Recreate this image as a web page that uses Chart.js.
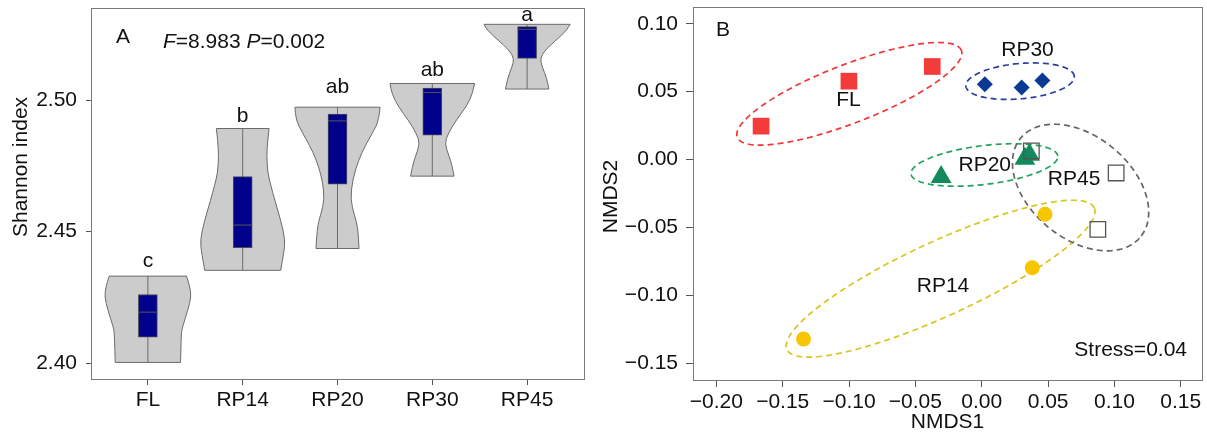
<!DOCTYPE html>
<html>
<head>
<meta charset="utf-8">
<script src="https://cdn.jsdelivr.net/npm/chart.js@4.4.1/dist/chart.umd.min.js"></script>
<style>
  html, body { margin: 0; padding: 0; background: #fff; }
  #wrap { position: relative; width: 1207px; height: 432px; }
  #chartA { position: absolute; left: 0; top: 0; }
  #chartB { position: absolute; left: 600px; top: 0; }
</style>
</head>
<body>
<div id="wrap">
  <canvas id="chartA" width="600" height="432"></canvas>
  <canvas id="chartB" width="607" height="432"></canvas>
</div>
<script>
// ---- panel A: Shannon index ----
const groups = ["FL", "RP14", "RP20", "RP30", "RP45"];
const shannonMin = [2.4003, 2.4353, 2.4436, 2.4711, 2.5042];
const shannonMax = [2.4331, 2.4892, 2.4973, 2.5063, 2.5288];
const boxLow = [2.4099, 2.4439, 2.4680, 2.4867, 2.5158];
const boxMedian = [2.4194, 2.4525, 2.4921, 2.5029, 2.5269];
const boxHigh = [2.4261, 2.4709, 2.4947, 2.5046, 2.5279];
const sigLetters = ["c", "b", "ab", "ab", "a"];
const sigLetterY = [2.4367, 2.4918, 2.5028, 2.5091, 2.5301];
const shannonTicks = [2.40, 2.45, 2.50];

// violin outlines, top to bottom: [Shannon value, half width in group units]
const violinFL = [[2.4331, 0.408], [2.4291, 0.443], [2.4253, 0.457], [2.4202, 0.422], [2.4139, 0.366], [2.4113, 0.352], [2.4003, 0.345]];
const violinRP14 = [[2.4892, 0.278], [2.4848, 0.264], [2.4791, 0.253], [2.4723, 0.264], [2.4677, 0.296], [2.4620, 0.338], [2.4544, 0.401], [2.4468, 0.449], [2.4419, 0.433], [2.4353, 0.401]];
const violinRP20 = [[2.4973, 0.449], [2.4924, 0.438], [2.4875, 0.369], [2.4829, 0.296], [2.4772, 0.222], [2.4696, 0.158], [2.4620, 0.137], [2.4563, 0.179], [2.4514, 0.216], [2.4436, 0.227]];
const violinRP30 = [[2.5063, 0.446], [2.5025, 0.427], [2.4975, 0.359], [2.4924, 0.253], [2.4873, 0.167], [2.4835, 0.130], [2.4785, 0.179], [2.4747, 0.211], [2.4711, 0.229]];
const violinRP45 = [[2.5288, 0.454], [2.5266, 0.422], [2.5228, 0.306], [2.5190, 0.190], [2.5158, 0.137], [2.5127, 0.158], [2.5082, 0.208], [2.5042, 0.229]];

// ---- panel B: NMDS ----
const nmdsFL = { x: [-0.1663, -0.1001, -0.0373], y: [0.0246, 0.0577, 0.0685] };
const nmdsRP14 = { x: [-0.1343, 0.0477, 0.0381], y: [-0.1321, -0.0403, -0.0797] };
const nmdsRP20 = { x: [-0.0306, 0.0325, 0.0360], y: [-0.0128, 0.0005, 0.0035] };
const nmdsRP30 = { x: [0.0023, 0.0301, 0.0457], y: [0.0555, 0.0530, 0.0582] };
const nmdsRP45 = { x: [0.0374, 0.1013, 0.0875], y: [0.0063, -0.0099, -0.0514] };
// confidence ellipses per group (FL, RP14, RP20, RP30, RP45)
const ellipseCX = [-0.0998, -0.0310, 0.0020, 0.0289, 0.0745];
const ellipseCY = [0.0484, -0.0877, -0.0040, 0.0577, -0.0206];
const ellipseMajor = [0.0903, 0.1270, 0.0557, 0.0410, 0.0580];
const ellipseMinor = [0.0216, 0.0274, 0.0143, 0.0130, 0.0380];
const ellipseAngle = [20.7, 24.2, 6.8, 5.0, -38.0];
// group label anchors in NMDS units
const labelX = [-0.1004, -0.0292, 0.0023, 0.0345, 0.0696];
const labelY = [0.0440, -0.0930, -0.0045, 0.0803, -0.0143];
const nmdsXTicks = [-0.20, -0.15, -0.10, -0.05, 0.00, 0.05, 0.10, 0.15];
const nmdsYTicks = [-0.15, -0.10, -0.05, 0.00, 0.05, 0.10];

const FONT = "'Liberation Sans', Arial, sans-serif";
const FRAME = "#7a7a7a";
const fmt = (v) => (v < -1e-9 ? "\u2212" : "") + Math.abs(v).toFixed(2);

// keep the plot box exactly where the layout padding puts it
function noPad(s) {
  s.paddingTop = 0;
  s.paddingBottom = 0;
  s.paddingLeft = 0;
  s.paddingRight = 0;
}

function smoothSide(ctx, pts) {
  ctx.lineTo(pts[0].x, pts[0].y);
  for (let i = 1; i < pts.length - 1; i++) {
    const mx = (pts[i].x + pts[i + 1].x) / 2;
    const my = (pts[i].y + pts[i + 1].y) / 2;
    ctx.quadraticCurveTo(pts[i].x, pts[i].y, mx, my);
  }
  ctx.lineTo(pts[pts.length - 1].x, pts[pts.length - 1].y);
}

function drawFrame(chart) {
  const { ctx, chartArea: a } = chart;
  ctx.save();
  ctx.strokeStyle = FRAME;
  ctx.lineWidth = 1;
  ctx.strokeRect(Math.round(a.left) + 0.5, Math.round(a.top) + 0.5, Math.round(a.right - a.left), Math.round(a.bottom - a.top));
  ctx.restore();
}

function drawRotated(ctx, text, x, y) {
  ctx.save();
  ctx.translate(x, y);
  ctx.rotate(-Math.PI / 2);
  ctx.textAlign = "center";
  ctx.textBaseline = "middle";
  ctx.fillText(text, 0, 0);
  ctx.restore();
}

const violinShapes = [violinFL, violinRP14, violinRP20, violinRP30, violinRP45];

const violinPlugin = {
  id: "violins",
  beforeDatasetsDraw(chart) {
    const { ctx, scales: { x, y } } = chart;
    const unit = x.getPixelForValue(1) - x.getPixelForValue(0);
    violinShapes.forEach((shape, i) => {
      const cx = x.getPixelForValue(i + 1);
      const right = shape.map(([v, w]) => ({ x: cx + w * unit, y: y.getPixelForValue(v) }));
      const left = shape.map(([v, w]) => ({ x: cx - w * unit, y: y.getPixelForValue(v) })).reverse();
      ctx.save();
      ctx.beginPath();
      ctx.moveTo(left[left.length - 1].x, left[left.length - 1].y);
      smoothSide(ctx, right);
      smoothSide(ctx, left);
      ctx.closePath();
      ctx.fillStyle = "#cccccc";
      ctx.fill();
      ctx.strokeStyle = "#6b6b6b";
      ctx.lineWidth = 1;
      ctx.stroke();
      ctx.beginPath();
      ctx.moveTo(cx, y.getPixelForValue(shannonMin[i]));
      ctx.lineTo(cx, y.getPixelForValue(shannonMax[i]));
      ctx.stroke();
      ctx.restore();
    });
  },
  afterDatasetsDraw(chart) {
    const { ctx, scales: { x, y } } = chart;
    const bars = chart.getDatasetMeta(0).data;
    ctx.save();
    ctx.strokeStyle = "#4a4a5e";
    ctx.lineWidth = 1.2;
    bars.forEach((bar, i) => {
      const yy = y.getPixelForValue(boxMedian[i]);
      ctx.beginPath();
      ctx.moveTo(bar.x - bar.width / 2, yy);
      ctx.lineTo(bar.x + bar.width / 2, yy);
      ctx.stroke();
    });
    ctx.fillStyle = "#111";
    ctx.font = "21px " + FONT;
    ctx.textAlign = "center";
    ctx.textBaseline = "alphabetic";
    sigLetters.forEach((t, i) => ctx.fillText(t, x.getPixelForValue(i + 1), y.getPixelForValue(sigLetterY[i])));

    const a = chart.chartArea;
    ctx.textAlign = "left";
    ctx.fillText("A", a.left + 25, a.top + 35);
    const parts = [["F", true], ["=8.983 ", false], ["P", true], ["=0.002", false]];
    let px = a.left + 72;
    parts.forEach(([t, it]) => {
      ctx.font = (it ? "italic " : "") + "21px " + FONT;
      ctx.fillText(t, px, a.top + 40);
      px += ctx.measureText(t).width;
    });
    ctx.font = "21px " + FONT;
    drawRotated(ctx, "Shannon index", 21, 167);
    ctx.restore();
    drawFrame(chart);
  },
};

new Chart(document.getElementById("chartA"), {
  type: "bar",
  data: {
    datasets: [{
      label: "box",
      data: groups.map((g, i) => ({ x: i + 1, y: [boxLow[i], boxHigh[i]] })),
      backgroundColor: "#00008b",
      borderColor: "#4a4a5e",
      borderWidth: 1,
      borderSkipped: false,
      barThickness: 19,
    }],
  },
  options: {
    responsive: false,
    devicePixelRatio: 1,
    animation: false,
    layout: { autoPadding: false, padding: { top: 8, right: 16, left: 0, bottom: 0 } },
    plugins: { legend: { display: false }, tooltip: { enabled: false } },
    scales: {
      x: {
        type: "linear",
        offset: false,
        min: 0.4,
        max: 5.6,
        afterBuildTicks: (s) => { s.ticks = groups.map((g, i) => ({ value: i + 1 })); },
        afterFit: (s) => { s.height = 53; noPad(s); },
        ticks: { callback: (v) => groups[v - 1] ?? "", color: "#111", font: { family: FONT, size: 21 }, padding: 3, maxRotation: 0, autoSkip: false },
        grid: { offset: false, drawOnChartArea: false, drawTicks: true, tickLength: 6, color: "#555" },
        border: { display: false },
      },
      y: {
        type: "linear",
        min: 2.394,
        max: 2.535,
        afterBuildTicks: (s) => { s.ticks = shannonTicks.map((v) => ({ value: v })); },
        afterFit: (s) => { s.width = 91; noPad(s); },
        ticks: { callback: (v) => fmt(v), color: "#111", font: { family: FONT, size: 21 }, padding: 9 },
        grid: { drawOnChartArea: false, drawTicks: true, tickLength: 5, color: "#555" },
        border: { display: false },
      },
    },
  },
  plugins: [violinPlugin],
});

// ---- panel B ----
const ellipseColors = ["#f03a3a", "#d9c51f", "#22a35a", "#2c3b9e", "#666666"];

const nmdsPlugin = {
  id: "nmdsDecor",
  beforeDatasetsDraw(chart) {
    const { ctx, scales: { x, y } } = chart;
    ctx.save();
    ctx.lineWidth = 1.7;
    ctx.setLineDash([6, 4]);
    groups.forEach((g, i) => {
      const th = ellipseAngle[i] * Math.PI / 180;
      ctx.beginPath();
      for (let k = 0; k <= 180; k++) {
        const t = (k / 180) * 2 * Math.PI;
        const dx = ellipseMajor[i] * Math.cos(t) * Math.cos(th) - ellipseMinor[i] * Math.sin(t) * Math.sin(th);
        const dy = ellipseMajor[i] * Math.cos(t) * Math.sin(th) + ellipseMinor[i] * Math.sin(t) * Math.cos(th);
        const px = x.getPixelForValue(ellipseCX[i] + dx);
        const py = y.getPixelForValue(ellipseCY[i] + dy);
        if (k === 0) ctx.moveTo(px, py); else ctx.lineTo(px, py);
      }
      ctx.closePath();
      ctx.strokeStyle = ellipseColors[i];
      ctx.stroke();
    });
    ctx.restore();
  },
  afterDatasetsDraw(chart) {
    const { ctx, scales: { x, y } } = chart;
    const a = chart.chartArea;
    ctx.save();
    ctx.fillStyle = "#111";
    ctx.font = "21px " + FONT;
    ctx.textAlign = "center";
    ctx.textBaseline = "middle";
    groups.forEach((g, i) => ctx.fillText(g, x.getPixelForValue(labelX[i]), y.getPixelForValue(labelY[i])));
    ctx.textAlign = "left";
    ctx.textBaseline = "alphabetic";
    ctx.fillText("B", a.left + 23, a.top + 29);
    ctx.textAlign = "right";
    ctx.fillText("Stress=0.04", a.right - 15, a.bottom - 24);
    ctx.textAlign = "center";
    ctx.fillText("NMDS1", (a.left + a.right) / 2, 428);
    drawRotated(ctx, "NMDS2", 11, (a.top + a.bottom) / 2 + 3);
    ctx.restore();
    drawFrame(chart);
  },
};

const toPoints = (s) => s.x.map((v, i) => ({ x: v, y: s.y[i] }));

new Chart(document.getElementById("chartB"), {
  type: "scatter",
  data: {
    datasets: [
      { label: "RP45", data: toPoints(nmdsRP45), pointStyle: "rect", pointRadius: 11, backgroundColor: "rgba(0,0,0,0)", borderColor: "#555", borderWidth: 1.3, order: 0 },
      { label: "FL", data: toPoints(nmdsFL), pointStyle: "rect", pointRadius: 11.8, backgroundColor: "#f43b3b", borderColor: "#f43b3b", borderWidth: 0, order: 1 },
      { label: "RP14", data: toPoints(nmdsRP14), pointStyle: "circle", pointRadius: 7.5, backgroundColor: "#f8c600", borderColor: "#f8c600", borderWidth: 0, order: 1 },
      { label: "RP20", data: toPoints(nmdsRP20), pointStyle: "triangle", pointRadius: 12, backgroundColor: "#138a5c", borderColor: "#138a5c", borderWidth: 0, order: 1 },
      { label: "RP30", data: toPoints(nmdsRP30), pointStyle: "rectRot", pointRadius: 8, backgroundColor: "#0b3a94", borderColor: "#0b3a94", borderWidth: 0, order: 1 },
    ],
  },
  options: {
    responsive: false,
    devicePixelRatio: 1,
    animation: false,
    layout: { autoPadding: false, padding: { top: 7, right: 5, left: 0, bottom: 0 } },
    plugins: { legend: { display: false }, tooltip: { enabled: false } },
    scales: {
      x: {
        type: "linear",
        min: -0.2176,
        max: 0.166,
        afterBuildTicks: (s) => { s.ticks = nmdsXTicks.map((v) => ({ value: v })); },
        afterFit: (s) => { s.height = 52; noPad(s); },
        ticks: { callback: (v) => fmt(v), color: "#111", font: { family: FONT, size: 21 }, padding: 3, maxRotation: 0, autoSkip: false },
        grid: { drawOnChartArea: false, drawTicks: true, tickLength: 7, color: "#555" },
        border: { display: false },
      },
      y: {
        type: "linear",
        min: -0.1623,
        max: 0.1123,
        afterBuildTicks: (s) => { s.ticks = nmdsYTicks.map((v) => ({ value: v })); },
        afterFit: (s) => { s.width = 93; noPad(s); },
        ticks: { callback: (v) => fmt(v), color: "#111", font: { family: FONT, size: 21 }, padding: 8 },
        grid: { drawOnChartArea: false, drawTicks: true, tickLength: 7, color: "#555" },
        border: { display: false },
      },
    },
  },
  plugins: [nmdsPlugin],
});
</script>
</body>
</html>
